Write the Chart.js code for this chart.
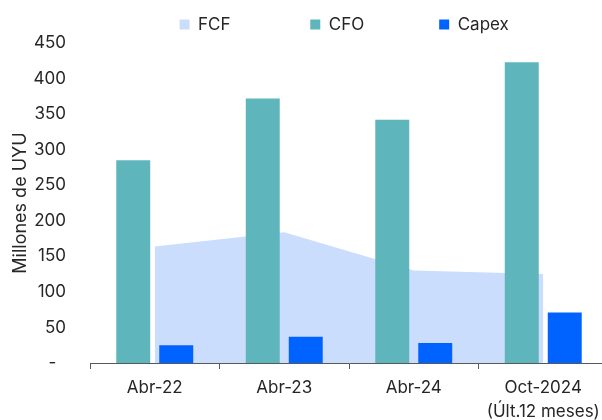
<!DOCTYPE html>
<html>
<head>
<meta charset="utf-8">
<script src="https://cdn.jsdelivr.net/npm/chart.js@4"></script>
<style>
  html, body { margin: 0; padding: 0; background: #fff; overflow: hidden; }
  #wrap { width: 608px; height: 420px; }
</style>
</head>
<body>
<div id="wrap"><canvas id="grafico" width="608" height="420"></canvas></div>
<script>
// datos (millones de UYU)
const categorias = ['Abr-22', 'Abr-23', 'Abr-24', ['Oct-2024', '(Últ.12 meses)']];
const fcf = [164, 184, 130, 125];
const cfo = [285, 372, 342, 423];
const capex = [25, 37, 28, 71];

const fuente = "Inter, 'Liberation Sans', Arial, sans-serif";
const colorTexto = '#262626';
// espacio extra entre items de la leyenda
const separacionLeyenda = ['               ', '              ', '  '];

document.addEventListener('DOMContentLoaded', () => {
    Chart.defaults.font.family = fuente;
    Chart.defaults.font.size = 17;
    Chart.defaults.color = colorTexto;

    new Chart(document.getElementById('grafico').getContext('2d'), {
        type: 'bar',
        data: {
            labels: categorias,
            datasets: [
                { type: 'line', label: 'FCF', data: fcf, backgroundColor: '#cbddfc', borderColor: '#cbddfc',
                  borderWidth: 0, pointRadius: 0, fill: 'origin', tension: 0, order: 2 },
                { label: 'CFO', data: cfo, backgroundColor: '#5fb5bc', order: 1 },
                { label: 'Capex', data: capex, backgroundColor: '#0062ff', order: 1 }
            ]
        },
        options: {
            responsive: false,
            animation: false,
            categoryPercentage: 0.664,
            barPercentage: 0.79,
            layout: { padding: { top: 8, left: 6, right: 0, bottom: 0 } },
            plugins: {
                tooltip: { enabled: false },
                legend: {
                    position: 'top',
                    fullSize: false,
                    maxHeight: 42,
                    labels: {
                        boxWidth: 10,
                        boxHeight: 10,
                        padding: 8,
                        font: { size: 17 },
                        generateLabels: (chart) => {
                            const items = Chart.defaults.plugins.legend.labels.generateLabels(chart);
                            items.sort((a, b) => a.datasetIndex - b.datasetIndex);
                            items.forEach(it => {
                                it.text = it.text + separacionLeyenda[it.datasetIndex];
                                it.lineWidth = 0;
                            });
                            return items;
                        }
                    }
                }
            },
            scales: {
                x: {
                    grid: { display: true, drawOnChartArea: false, drawTicks: true, tickLength: 6, color: '#595959' },
                    border: { display: true, color: '#595959', width: 1 },
                    ticks: { padding: 7, font: { size: 17, lineHeight: 1.4 }, maxRotation: 0, autoSkip: false },
                    afterFit: (s) => { s.height = 57; }
                },
                y: {
                    min: 0,
                    max: 450,
                    grid: { display: false },
                    border: { display: false },
                    ticks: {
                        stepSize: 50,
                        padding: 16,
                        font: { size: 17 },
                        callback: (v) => v === 0 ? '-  ' : v
                    },
                    title: { display: true, text: 'Millones de UYU', font: { size: 18 }, padding: { top: 4, bottom: 4 } },
                    afterFit: (s) => { s.width = 84; }
                }
            }
        }
    });
});
</script>
</body>
</html>
